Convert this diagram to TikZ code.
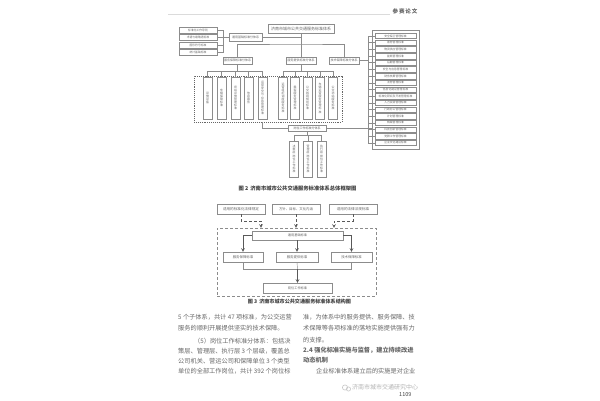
\documentclass[tikz,border=0pt]{standalone}
\usepackage{fontspec}
\setmainfont{Noto Sans CJK SC}
\XeTeXlinebreaklocale "zh"
\usetikzlibrary{arrows.meta}
\definecolor{inkg}{HTML}{666666}
\definecolor{lineg}{HTML}{8C8C8C}
\tikzset{
	cnbox/.style={draw=lineg, line width=0.45pt, fill=white, inner sep=0pt, text=inkg, minimum width=#1, minimum height=6pt, font=\fontsize{2.8}{3}\selectfont},
	colbox/.style={draw=lineg, line width=0.45pt, fill=white, inner sep=0pt, text=inkg, minimum width=9pt, minimum height=#1, text width=3pt, align=center, font=\fontsize{2.9}{3.1}\selectfont},
	link/.style={draw=lineg, line width=0.45pt},
	flow/.style={draw=black!65, line width=0.55pt, ->, >=stealth},
	dashflow/.style={flow, densely dashed},
	para/.style={anchor=west, inner sep=0pt, text=inkg, font=\fontsize{6.2}{6.2}\selectfont},
}
\begin{document}
\begin{tikzpicture}[x=1pt, y=-1pt]
	\useasboundingbox (0,0) rectangle (600,400);
	\fill[white] (0,0) rectangle (600,400);
	% header
	\draw[black!14, line width=0.6pt] (168,14) -- (390,14);
	\node[text=inkg, inner sep=0pt, font=\bfseries\fontsize{5.5}{6}\selectfont] (head) at (405,11) {参\,赛\,论\,文};

	% figure 2
	\node[cnbox=66pt, minimum height=9pt, font=\fontsize{4}{4}\selectfont] (root) at (301,28.5) {济南市城市公共交通服务标准体系};
	\node[cnbox=33pt, minimum height=8pt, font=\fontsize{3}{3}\selectfont] (base) at (245.5,37.5) {通用基础标准分体系};
	\node[cnbox=29pt, minimum height=7.5pt, font=\fontsize{3}{3}\selectfont] (svc) at (237.5,60.5) {服务保障标准分体系};
	\node[cnbox=30pt, minimum height=7.5pt, font=\fontsize{3}{3}\selectfont] (prov) at (301,60.5) {服务提供标准分体系};
	\node[cnbox=30pt, minimum height=7.5pt, font=\fontsize{3}{3}\selectfont] (tech) at (344,60.5) {技术保障标准分体系};
	\node[cnbox=38pt, font=\fontsize{3}{3}\selectfont] (post) at (307,128) {岗位工作标准分体系};

	\node[cnbox=38pt] (ga) at (198,30.5) {标准化工作导则};
	\node[cnbox=38pt] (gb) at (198,37.5) {术语与缩略语标准};
	\node[cnbox=38pt] (gc) at (198,45) {图形符号标准};
	\node[cnbox=38pt] (gd) at (198,52) {统计基础标准};

	\node[draw=black!60, line width=0.9pt, densely dotted, minimum width=148pt, minimum height=46pt, inner sep=0pt] (dashL) at (268,99) {};
	\node[colbox=42pt] (ca) at (207.5,98) {设施设备};
	\node[colbox=42pt] (cb) at (221.5,98) {车辆保障标准};
	\node[colbox=42pt] (cc) at (235.5,98) {场站设施管理标准};
	\node[colbox=42pt] (cd) at (248.5,98) {信息服务};
	\node[colbox=42pt] (ce) at (262.5,98) {运营安全与应急管理标准};
	\node[colbox=42pt] (cf) at (283,98) {运营组织调度服务标准};
	\node[colbox=42pt] (cg) at (295,98) {乘客服务管理标准};
	\node[colbox=42pt] (ch) at (307.5,98) {公交线网规划标准};
	\node[colbox=42pt] (ci) at (320,98) {车辆运营服务管理标准};
	\node[colbox=42pt] (cj) at (333,98) {公交场站服务标准};

	\node[colbox=36pt] (pa) at (294,159) {决策层岗位工作标准};
	\node[colbox=36pt] (pb) at (308,159) {管理层岗位工作标准};
	\node[colbox=36pt] (pc) at (321.5,159) {执行层岗位工作标准};

	\node[draw=lineg, line width=0.45pt, minimum width=47pt, minimum height=119pt, inner sep=0pt] (outer) at (395.5,89.5) {};
	\foreach \i/\t in {0/安全保卫管理标准, 1/票务管理标准, 2/物资供应管理标准, 3/能耗管理标准, 4/后勤管理标准, 5/安全与应急管理标准, 6/财务核算管理标准, 7/法务管理标准, 8/信息化建设管理标准, 9/标准化研究及开发管理标准, 10/人力资源管理标准, 11/行政办公管理标准, 12/计划管理标准, 13/档案管理标准, 14/科技创新管理标准, 15/党群工作管理标准, 16/企业文化建设标准}
		\node[cnbox=41pt, minimum height=5.4pt] (r\i) at (395.5,36+6.68*\i) {\t};

	\coordinate (trunk) at (301,44);
	\coordinate (jointG) at (223,37.5);
	\coordinate (jointR) at (368,60.5);
	\coordinate (busS) at (237.5,71);
	\coordinate (busP) at (301,71);
	\coordinate (busJ) at (307,135);

	\draw[link] (root.south) -- (prov.north);
	\draw[link] (svc.north) |- (trunk) -| (tech.north);
	\draw[link] (base.east) -| (root.south);
	\draw[link] (base.west) -- (jointG);
	\foreach \n in {ga,gb,gc,gd}
		\draw[link] (\n.east) -| (jointG);
	\draw[link] (svc.south) -- (busS);
	\foreach \n in {ca,cb,cc,cd,ce}
		\draw[link] (\n.north) |- (busS);
	\draw[link] (prov.south) -- (busP);
	\foreach \n in {cf,cg,ch,ci,cj}
		\draw[link] (\n.north) |- (busP);
	\draw[link] (post.south) -- (busJ);
	\foreach \n in {pa,pb,pc}
		\draw[link] (\n.north) |- (busJ);
	\draw[link] (tech.east) -- (jointR);
	\foreach \i in {0,...,16}
		\draw[link] (r\i.west) -| (jointR);
	\draw[link] (post.west) -| (dashL.south -| ce.south);
	\draw[link] (post.east) -- (post.east -| outer.west);

	\node[inner sep=0pt, text=black!75, font=\bfseries\fontsize{5.3}{6}\selectfont] (capa) at (297.5,188) {图 2\, 济南市城市公共交通服务标准体系总体框架图};

	% figure 3
	\node[cnbox=48pt, minimum height=10pt, font=\fontsize{3.6}{4}\selectfont] (law) at (241,209) {适用的标准化法律规定};
	\node[cnbox=48pt, minimum height=10pt, font=\fontsize{3.4}{4}\selectfont] (aim) at (296,209) {方针、目标、文化内涵};
	\node[cnbox=48pt, minimum height=10pt, font=\fontsize{3.6}{4}\selectfont] (reg) at (353,209) {适用的法律法规标准};

	\node[draw=black!45, line width=0.45pt, densely dashed, minimum width=159pt, minimum height=68pt, inner sep=0pt] (dashF) at (296.5,262) {};
	\node[cnbox=91pt, minimum height=9pt, font=\fontsize{3.2}{4}\selectfont] (fbase) at (297.5,235.5) {通用基础标准};
	\node[cnbox=40pt, minimum height=10pt, font=\fontsize{3.4}{4}\selectfont] (fsvc) at (243,257) {服务保障标准};
	\node[cnbox=42pt, minimum height=10pt, font=\fontsize{3.4}{4}\selectfont] (fprov) at (297,257) {服务提供标准};
	\node[cnbox=41pt, minimum height=10pt, font=\fontsize{3.4}{4}\selectfont] (ftech) at (351.5,257) {技术保障标准};
	\node[cnbox=69pt, minimum height=10pt, font=\fontsize{3.2}{4}\selectfont] (fpost) at (297.5,288) {岗位工作标准};

	\coordinate (bendA) at (261,221);
	\coordinate (bendC) at (334,221);
	\coordinate (busF) at (297.5,269);
	\draw[dashflow] (law.south) |- (bendA) -- (bendA |- dashF.north);
	\draw[dashflow] (aim.south) -- (aim.south |- dashF.north);
	\draw[dashflow] (reg.south) |- (bendC) -- (bendC |- dashF.north);
	\draw[flow] (fbase.west) -| (fsvc.north);
	\draw[flow] (fbase.south -| fprov.north) -- (fprov.north);
	\draw[flow] (fbase.east) -| (ftech.north);
	\draw[link] (fsvc.south) |- (busF);
	\draw[link] (ftech.south) |- (busF);
	\draw[link] (fprov.south) -- (busF);
	\draw[flow] (busF) -- (fpost.north);

	\node[inner sep=0pt, text=black!75, font=\bfseries\fontsize{5.1}{6}\selectfont] (capb) at (299.5,302) {图 3\, 济南市城市公共交通服务标准体系结构图};

	% body text
	\node[para] (la) at (178,317) {5 个子体系，共计 47 项标准，为公交运营};
	\node[para] (lb) at (178,328) {服务的顺利开展提供坚实的技术保障。};
	\node[para] (lc) at (194,341) {（5）岗位工作标准分体系：包括决};
	\node[para] (ld) at (178,351) {策层、管理层、执行层 3 个层级，覆盖总};
	\node[para] (le) at (178,361) {公司机关、营运公司和保障单位 3 个类型};
	\node[para] (lf) at (178,371) {单位的全部工作岗位，共计 392 个岗位标};
	\node[para] (ra) at (303,317) {准，为体系中的服务提供、服务保障、技};
	\node[para] (rb) at (303,328) {术保障等各项标准的落地实施提供强有力};
	\node[para] (rc) at (303,340) {的支撑。};
	\node[para, font=\bfseries\fontsize{6.2}{6.2}\selectfont] (rd) at (303,350) {2.4 强化标准实施与监督，建立持续改进};
	\node[para, font=\bfseries\fontsize{6.2}{6.2}\selectfont] (re) at (303,360) {动态机制};
	\node[para] (rf) at (316,371) {企业标准体系建立后的实施是对企业};

	% watermark
	\draw[black!22, line width=0.6pt] (345,387.5) circle (2.6);
	\draw[black!22, line width=0.6pt] (348.5,389) circle (2.1);
	\node[anchor=west, inner sep=0pt, text=black!30, font=\fontsize{6}{6}\selectfont] (mark) at (352,387.5) {济南市城市交通研究中心};
	\node[anchor=west, inner sep=0pt, text=black!75, font=\fontsize{5.5}{6}\selectfont] (pnum) at (399,394.5) {1109};
\end{tikzpicture}
\end{document}
